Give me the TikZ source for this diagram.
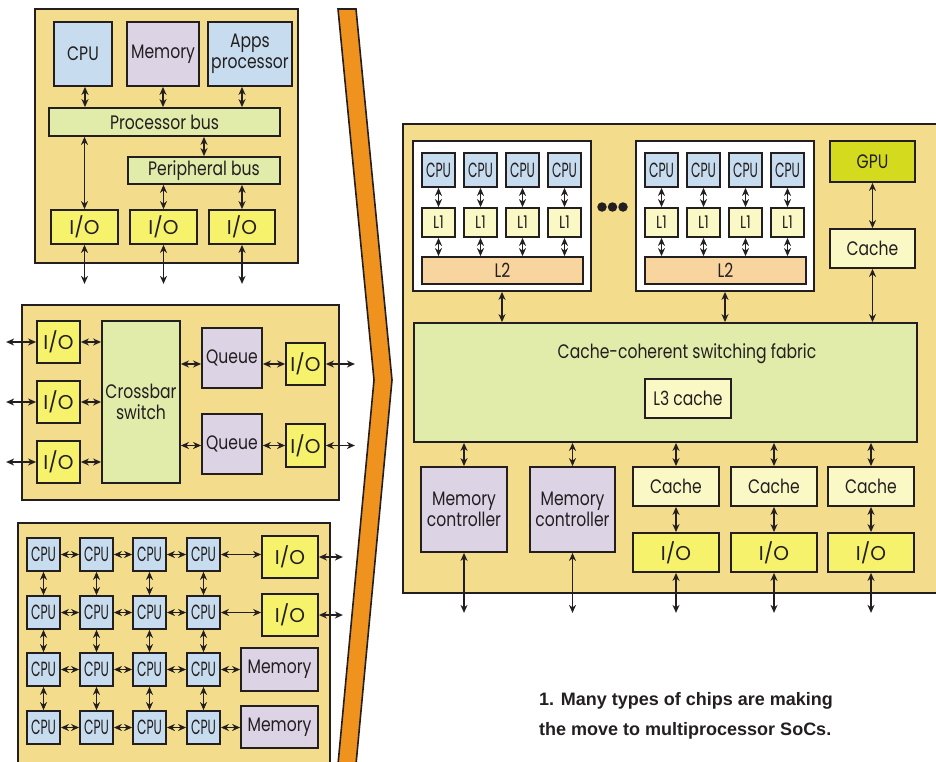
\documentclass[tikz,border=0pt]{standalone}
\usepackage{fontspec}
\setmainfont{Poppins}[FakeStretch=0.8]
\newfontfamily\condf{Poppins}[FakeStretch=0.6]
\newfontfamily\widef{Poppins}
\newfontfamily\capfont{Liberation Sans}
\usetikzlibrary{arrows.meta}
\definecolor{ln}{HTML}{231F20}
\definecolor{tan}{HTML}{F3DD8C}
\definecolor{cpub}{HTML}{C7DDEF}
\definecolor{memp}{HTML}{DCD3E5}
\definecolor{busg}{HTML}{E1EBAA}
\definecolor{ioy}{HTML}{F6F26B}
\definecolor{pale}{HTML}{FAF8C5}
\definecolor{ltwo}{HTML}{F8D49E}
\definecolor{gpuc}{HTML}{D4DB1E}
\definecolor{orng}{HTML}{F0921E}
\newcommand\mybox[7]{\node[#1,minimum width={(#5)-(#3)},minimum height={(#6)-(#4)}] (#2) at ({((#3)+(#5))/2},{((#4)+(#6))/2}) {#7};}
\newcommand\fsA{\fontsize{19.5}{21.5}\selectfont}
\newcommand\fsL{\fontsize{17.5}{20}\selectfont}
\newcommand\fsS{\condf\fontsize{20.5}{22}\selectfont}
\newcommand\fsW{\widef\fontsize{20}{22}\selectfont}
\begin{document}
\begin{tikzpicture}[x=1pt,y=-1pt,
  pan/.style={draw=ln,fill=tan,line width=1.8pt,inner sep=0pt},
  bx/.style={draw=ln,line width=1.8pt,inner sep=0pt,align=center,text=ln,font=\fsA},
  cpu/.style={bx,fill=cpub},
  cpuS/.style={bx,fill=cpub,font=\fsS},
  mem/.style={bx,fill=memp},
  bus/.style={bx,fill=busg},
  io/.style={bx,fill=ioy,font=\fsW},
  pal/.style={bx,fill=pale},
  palS/.style={bx,fill=pale,font=\fsL},
  ltw/.style={bx,fill=ltwo},
  gpu/.style={bx,fill=gpuc},
  clus/.style={draw=ln,fill=white,line width=1.8pt,inner sep=0pt},
  dar/.style={{Stealth[length=8pt,width=7pt,inset=2.5pt]}-{Stealth[length=8pt,width=7pt,inset=2.5pt]},line width=1.7pt,draw=ln}]
\useasboundingbox (0,0) rectangle (936,762);
\clip (0,0) rectangle (936,762);
\fill[white] (0,0) rectangle (936,762);

% ---------- Panel A ----------
\mybox{pan}{panA}{35}{9}{298}{263}{}
\mybox{cpu}{cpuA}{54}{22}{112}{86}{CPU}
\mybox{mem}{memA}{127}{22}{199}{86}{Memory}
\mybox{cpu}{appsA}{208}{22}{292}{86}{Apps\\processor}
\mybox{bus}{pbus}{49}{108}{280}{136}{Processor bus}
\mybox{bus}{perb}{128}{157}{280}{184}{Peripheral bus}
\mybox{io}{ioA1}{51}{210}{118}{244}{I/O}
\mybox{io}{ioA2}{130}{210}{197}{244}{I/O}
\mybox{io}{ioA3}{209}{210}{275}{244}{I/O}
\draw[dar] ([xshift=2]cpuA.south) -- ([xshift=2]cpuA.south |- pbus.north);
\draw[dar] (memA.south) -- (memA.south |- pbus.north);
\draw[dar] ([xshift=-8]appsA.south) -- ([xshift=-8]appsA.south |- pbus.north);
\draw[dar] (ioA1.north) -- (ioA1.north |- pbus.south);
\draw[dar] (perb.north) -- (perb.north |- pbus.south);
\draw[dar] (ioA2.north) -- (ioA2.north |- perb.south);
\draw[dar] (ioA3.north) -- (ioA3.north |- perb.south);
\draw[dar] (ioA1.south) -- ++(0,39);
\draw[dar] (ioA2.south) -- ++(0,39);
\draw[dar] (ioA3.south) -- ++(0,39);

% ---------- Panel B ----------
\mybox{pan}{panB}{22}{305}{339}{500}{}
\mybox{io}{ioB1}{37}{321}{80}{363}{I/O}
\mybox{io}{ioB2}{37}{381}{80}{423}{I/O}
\mybox{io}{ioB3}{37}{441}{80}{483}{I/O}
\mybox{bus}{xbar}{102}{321}{180}{483}{Crossbar\\switch}
\mybox{mem}{q1}{202}{328}{262}{388}{Queue}
\mybox{mem}{q2}{202}{414}{262}{474}{Queue}
\mybox{io}{ioB4}{286}{343}{325}{385}{I/O}
\mybox{io}{ioB5}{286}{424}{325}{467}{I/O}
\foreach \n in {ioB1,ioB2,ioB3}{
  \draw[dar] (\n.west) -- ++(-30,0);
  \draw[dar] (\n.east) -- (\n.east -| xbar.west);
}
\draw[dar] (ioB4.west) -- (ioB4.west -| q1.east);
\draw[dar] (q1.west |- ioB4.west) -- (xbar.east |- ioB4.west);
\draw[dar] (ioB5.west) -- (ioB5.west -| q2.east);
\draw[dar] (q2.west |- ioB5.west) -- (xbar.east |- ioB5.west);
\draw[dar] (ioB4.east) -- ++(29,0);
\draw[dar] (ioB5.east) -- ++(29,0);

% ---------- Panel C ----------
\mybox{pan}{panC}{18}{523}{330}{800}{}
\foreach \r/\y in {1/538,2/596,3/653,4/711}
  \foreach \c/\x in {1/27,2/80,3/133,4/187}
    {\mybox{cpuS}{c\r\c}{\x}{\y}{\x+33}{\y+33}{CPU}}
\mybox{io}{ioC1}{262}{536}{318}{578}{I/O}
\mybox{io}{ioC2}{262}{594}{318}{636}{I/O}
\mybox{mem}{memC1}{241}{648}{318}{691}{Memory}
\mybox{mem}{memC2}{241}{706}{318}{748}{Memory}
\foreach \r in {1,2,3,4}
  \foreach \c/\d in {1/2,2/3,3/4}
    {\draw[dar] (c\r\c.east) -- (c\r\d.west);}
\foreach \r/\s in {1/2,2/3,3/4}
  \foreach \c in {1,2,3,4}
    {\draw[dar] (c\r\c.south) -- (c\s\c.north);}
\draw[dar] (c14.east) -- (c14.east -| ioC1.west);
\draw[dar] (c24.east) -- (c24.east -| ioC2.west);
\draw[dar] (c34.east) -- (c34.east -| memC1.west);
\draw[dar] (c44.east) -- (c44.east -| memC2.west);
\draw[dar] (ioC1.east) -- ++(24,0);
\draw[dar] (ioC2.east) -- ++(24,0);

% ---------- Orange arrow ----------
\filldraw[fill=orng,draw=ln,line width=1.6pt,line join=miter]
  (338,9) -- (356,9) -- (392,380) -- (355,775) -- (337,775) -- (374,380) -- cycle;

% ---------- Panel D ----------
\mybox{pan}{panD}{403}{124}{950}{593}{}
\foreach \k/\o in {1/0,2/223}{
  \mybox{clus}{cl\k}{413+\o}{141}{591+\o}{291}{}
  \foreach \i in {1,2,3,4}{
    \mybox{cpuS}{cp\k\i}{422+\o+42*(\i-1)}{153}{455+\o+42*(\i-1)}{187}{CPU}
    \mybox{palS}{lo\k\i}{422+\o+42*(\i-1)}{208}{455+\o+42*(\i-1)}{237}{L1}
  }
  \mybox{ltw}{lt\k}{422+\o}{257}{583+\o}{284}{L2}
  \foreach \i in {1,2,3,4}{
    \draw[dar] (cp\k\i.south) -- (lo\k\i.north);
    \draw[dar] (lo\k\i.south) -- (lo\k\i.south |- lt\k.north);
  }
}
\node[circle,fill=ln,inner sep=0pt,minimum size=9.5] (dot1) at (602,207) {};
\node[circle,fill=ln,inner sep=0pt,minimum size=9.5] (dot2) at (612.5,207) {};
\node[circle,fill=ln,inner sep=0pt,minimum size=9.5] (dot3) at (623,207) {};
\mybox{gpu}{gpu}{830}{141}{915}{182}{GPU}
\mybox{pal}{cacheG}{830}{229}{915}{268}{Cache}
\mybox{bus}{fab}{414}{323}{917}{442}{}
\node[font=\fsA,text=ln] (fabtxt) at (687,354) {Cache-coherent switching fabric};
\mybox{pal}{lthree}{645}{379}{731}{418}{L3 cache}
\draw[dar] (cl1.south) -- (cl1.south |- fab.north);
\draw[dar] (cl2.south) -- (cl2.south |- fab.north);
\draw[dar] (gpu.south) -- (cacheG.north);
\draw[dar] (cacheG.south) -- (cacheG.south |- fab.north);
\mybox{mem}{mc1}{421}{467}{507}{552}{Memory\\controller}
\mybox{mem}{mc2}{530}{467}{615}{552}{Memory\\controller}
\mybox{pal}{cD1}{633}{467}{719}{506}{Cache}
\mybox{pal}{cD2}{731}{467}{817}{506}{Cache}
\mybox{pal}{cD3}{828}{467}{914}{506}{Cache}
\mybox{io}{ioD1}{633}{533}{719}{572}{I/O}
\mybox{io}{ioD2}{731}{533}{817}{572}{I/O}
\mybox{io}{ioD3}{828}{533}{914}{572}{I/O}
\foreach \n in {mc1,mc2,cD1,cD2,cD3}
  {\draw[dar] (\n.north) -- (\n.north |- fab.south);}
\foreach \n in {1,2,3}
  {\draw[dar] (cD\n.south) -- (ioD\n.north);
   \draw[dar] (ioD\n.south) -- ++(0,40);}
\draw[dar] (mc1.south) -- ++(0,60);
\draw[dar] (mc2.south) -- ++(0,60);

% ---------- Caption ----------
\node[anchor=base west,inner sep=0pt,text=ln,font=\capfont\bfseries\fontsize{18}{21}\selectfont] (cap1) at (539,705) {1. Many types of chips are making};
\node[anchor=base west,inner sep=0pt,text=ln,font=\capfont\bfseries\fontsize{18}{21}\selectfont] (cap2) at (539,735) {the move to multiprocessor SoCs.};
\end{tikzpicture}
\end{document}
